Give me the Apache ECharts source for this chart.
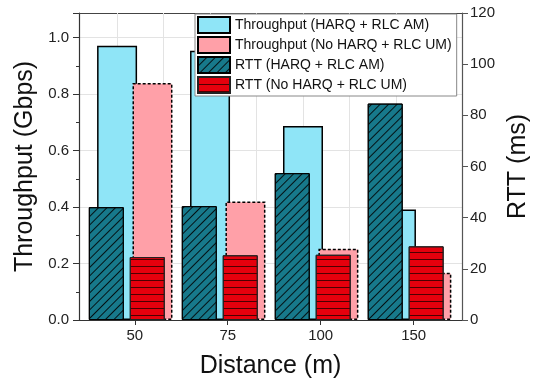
<!DOCTYPE html>
<html>
<head>
<meta charset="utf-8">
<script src="https://cdn.jsdelivr.net/npm/echarts@6/dist/echarts.min.js"></script>
<style>
  html, body { margin: 0; padding: 0; background: #fff; }
  #chart { width: 539px; height: 384px; }
</style>
</head>
<body>
<div id="chart"></div>
<script>
// 数据
var categories = ['50', '75', '100', '150'];
var seriesNames = [
    'Throughput (HARQ + RLC AM)',
    'Throughput (No HARQ + RLC UM)',
    'RTT (HARQ + RLC AM)',
    'RTT (No HARQ + RLC UM)'
];
var tpHarq = [0.971, 0.953, 0.687, 0.391];     // Gbps
var tpNoHarq = [0.839, 0.420, 0.252, 0.167];   // Gbps
var rttHarq = [44.1, 44.5, 57.4, 84.6];        // ms
var rttNoHarq = [24.6, 25.3, 25.5, 28.8];      // ms
var gridValues = [0, 0.5, 1, 1.5, 2, 2.5, 3];
var catIndex = [0, 1, 2, 3];

function pairs(arr) {
    return arr.map(function (v, i) { return [i, v]; });
}

var font = 'Liberation Sans, Arial, sans-serif';
var chart = echarts.init(document.getElementById('chart'));

var option = {
    animation: false,
    textStyle: { fontFamily: font },
    grid: { left: 79, right: 77, top: 13, bottom: 62 },
    legend: {
        orient: 'vertical',
        left: 195,
        top: 14,
        padding: [2, 5, 2, 2],
        itemWidth: 32,
        itemHeight: 16,
        itemGap: 2,
        backgroundColor: '#fff',
        borderColor: '#888',
        borderWidth: 1,
        icon: 'rect',
        textStyle: { fontSize: 14, color: '#111', fontFamily: font },
        data: seriesNames
    },
    xAxis: [{
        type: 'value',
        min: -0.6,
        max: 3.52,
        position: 'bottom',
        name: 'Distance (m)',
        nameLocation: 'middle',
        nameGap: 34,
        nameTextStyle: { fontSize: 25, color: '#111' },
        axisLine: { onZero: false, lineStyle: { color: '#333', width: 1.2 } },
        axisTick: { customValues: catIndex, length: 5, lineStyle: { color: '#333' } },
        axisLabel: {
            customValues: catIndex,
            fontSize: 15, color: '#222', margin: 8,
            formatter: function (v) { return categories[Math.round(v)]; }
        },
        splitLine: { show: false }
    }, {
        // 顶部边框
        type: 'value',
        min: -0.6,
        max: 3.52,
        position: 'top',
        axisLine: { show: true, onZero: false, lineStyle: { color: '#444', width: 1.2 } },
        axisTick: { show: false },
        axisLabel: { show: false },
        splitLine: { show: false }
    }],
    yAxis: [{
        type: 'value',
        min: 0,
        max: 1.087,
        interval: 0.2,
        position: 'left',
        name: 'Throughput (Gbps)',
        nameLocation: 'middle',
        nameGap: 38,
        nameTextStyle: { fontSize: 25, color: '#111' },
        axisLine: { show: true, onZero: false, lineStyle: { color: '#333', width: 1.2 } },
        axisTick: { show: true, length: 6, lineStyle: { color: '#333' } },
        minorTick: { show: true, splitNumber: 2, length: 3, lineStyle: { color: '#333' } },
        axisLabel: {
            fontSize: 15, color: '#222', margin: 10, showMaxLabel: false,
            formatter: function (v) { return v.toFixed(1); }
        },
        splitLine: { show: true, lineStyle: { color: '#e3e3e3', width: 1 } }
    }, {
        type: 'value',
        min: 0,
        max: 120,
        interval: 20,
        position: 'right',
        name: 'RTT (ms)',
        nameLocation: 'middle',
        nameGap: 43,
        nameTextStyle: { fontSize: 25, color: '#111' },
        axisLine: { show: true, onZero: false, lineStyle: { color: '#555', width: 1.2 } },
        axisTick: { show: true, length: 6, lineStyle: { color: '#555' } },
        axisLabel: { fontSize: 15, color: '#222', margin: 8 },
        splitLine: { show: false }
    }],
    series: [{
        name: seriesNames[0],
        type: 'bar',
        xAxisIndex: 0,
        yAxisIndex: 0,
        barWidth: 40,
        barGap: '-11.5%',
        data: pairs(tpHarq),
        itemStyle: { color: '#8fe5f7', borderColor: '#000', borderWidth: 1.5 },
        // 竖向网格线
        markLine: {
            silent: true,
            z: 1,
            symbol: 'none',
            label: { show: false },
            lineStyle: { color: '#e3e3e3', type: 'solid', width: 1 },
            data: gridValues.map(function (v) { return { xAxis: v }; })
        }
    }, {
        name: seriesNames[1],
        type: 'bar',
        xAxisIndex: 0,
        yAxisIndex: 0,
        barWidth: 40,
        barGap: '-11.5%',
        data: pairs(tpNoHarq),
        itemStyle: { color: '#ffa0a8', borderColor: '#000', borderWidth: 1.5, borderType: [3, 2] }
    }, {
        name: seriesNames[2],
        type: 'bar',
        xAxisIndex: 1,
        yAxisIndex: 1,
        barWidth: 35,
        barGap: '17%',
        data: pairs(rttHarq),
        itemStyle: {
            color: '#17798b', borderColor: '#000', borderWidth: 1,
            decal: {
                symbol: 'rect', symbolSize: 1, color: 'rgba(0,0,0,0.85)',
                dashArrayX: [[10, 0]], dashArrayY: [1, 5], rotation: -Math.PI / 4
            }
        }
    }, {
        name: seriesNames[3],
        type: 'bar',
        xAxisIndex: 1,
        yAxisIndex: 1,
        barWidth: 35,
        barGap: '17%',
        data: pairs(rttNoHarq),
        itemStyle: {
            color: '#e5000d', borderColor: '#222', borderWidth: 1,
            decal: {
                symbol: 'rect', symbolSize: 1, color: 'rgba(60,0,0,0.9)',
                dashArrayX: [[10, 0]], dashArrayY: [1, 5.1], rotation: 0
            }
        }
    }, {
        // 占位,让RTT柱组整体向左偏
        name: 'spacer',
        type: 'bar',
        xAxisIndex: 1,
        yAxisIndex: 1,
        barWidth: 10,
        barGap: '17%',
        silent: true,
        data: pairs([0, 0, 0, 0]),
        itemStyle: { color: 'rgba(0,0,0,0)' }
    }]
};

chart.setOption(option);
</script>
</body>
</html>
